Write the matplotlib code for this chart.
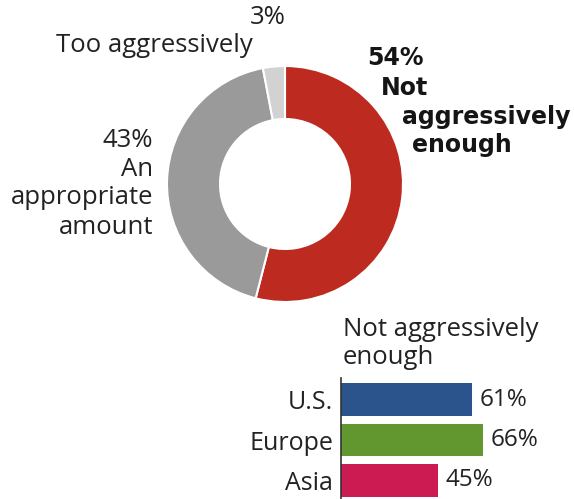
import matplotlib
matplotlib.use("Agg")
import matplotlib.pyplot as plt

plt.rcParams['font.family'] = ['Open Sans', 'DejaVu Sans']

# donut data
slice_labels = ['Not aggressively enough', 'Too aggressively', 'An appropriate amount']
slice_values = [54, 3, 43]
slice_colors = ['#BC2A20', '#D2D2D2', '#9A9A9A']

# bar data
regions = ['U.S.', 'Europe', 'Asia']
region_values = [61, 66, 45]
region_colors = ['#2B548C', '#62962E', '#CC1A52']

W, H = 574, 499
fig = plt.figure(figsize=(W / 100, H / 100), dpi=100)


def px(x, y):
    return x / W, 1 - y / H


# donut
cx, cy, R = 285, 184, 118
ax = fig.add_axes([(cx - 125) / W, (H - cy - 125) / H, 250 / W, 250 / H])
ax.pie([slice_values[0], slice_values[2], slice_values[1]],
       colors=[slice_colors[0], slice_colors[2], slice_colors[1]],
       startangle=90, counterclock=False, radius=R,
       wedgeprops=dict(width=R - 65, edgecolor='white', linewidth=1.5))
ax.set_xlim(-125, 125)
ax.set_ylim(-125, 125)
ax.set_aspect('equal')
ax.axis('off')

# donut labels
fs = 18.5
fig.text(*px(268, 18), f'{slice_values[1]}%', fontsize=fs, ha='center', va='center', color='#222222')
fig.text(*px(154, 46), 'Too aggressively', fontsize=fs, ha='center', va='center', color='#222222')

for t, y in zip([f'{slice_values[2]}%', 'An', 'appropriate', 'amount'], [140, 169, 198, 227]):
    fig.text(*px(153, y), t, fontsize=fs, ha='right', va='center', color='#222222')

bold_lines = [(f'{slice_values[0]}%', 367, 58), ('Not', 381, 88),
              ('aggressively', 402, 117), ('enough', 412, 145)]
for t, x, y in bold_lines:
    fig.text(*px(x, y), t, fontsize=17, fontweight='bold', ha='left', va='center',
             color='#151515', family=['DejaVu Sans'])

# bars
x0, scale = 341, 2.15
top, bottom = 378, 499
bax = fig.add_axes([x0 / W, 0, (W - x0) / W, (bottom - top) / H])
ypos = [0, 1, 2]
bax.barh(ypos, region_values, height=0.81, color=region_colors)
bax.set_xlim(0, (W - x0) / scale)
pitch = 40.5
bax.set_ylim(2 + (bottom - 480.5) / pitch, 0 - (399.5 - top) / pitch)
for side in ['top', 'right', 'bottom']:
    bax.spines[side].set_visible(False)
bax.spines['left'].set_color('#333333')
bax.spines['left'].set_linewidth(1.2)
bax.set_xticks([])
bax.set_yticks(ypos)
bax.set_yticklabels(regions, fontsize=18, color='#222222')
bax.tick_params(axis='y', length=0, pad=5.5)
for y, v in zip(ypos, region_values):
    bax.text(v + 3.5, y, f'{v}%', fontsize=17.5, va='center', ha='left', color='#222222')

fig.text(*px(343, 330), 'Not aggressively', fontsize=fs, ha='left', va='center', color='#222222')
fig.text(*px(343, 357), 'enough', fontsize=fs, ha='left', va='center', color='#222222')

fig.savefig('out.png', dpi=100)
